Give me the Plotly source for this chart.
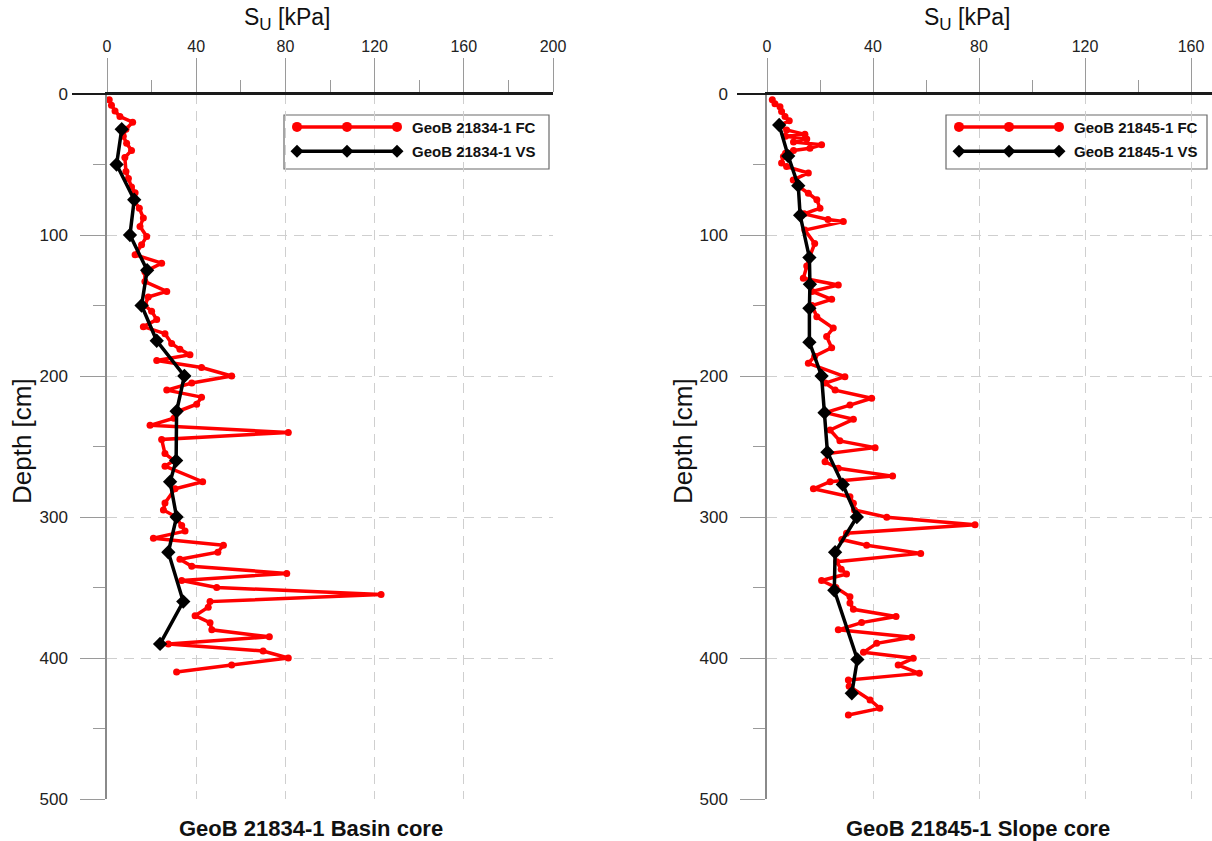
import plotly.graph_objects as go

W, H = 1212, 841

# ---- Basin core GeoB 21834-1 ----
basin_fc_depth = [4, 8, 12, 16, 20, 25, 30, 35, 40, 45, 55, 60, 66, 70, 75, 81, 88, 94, 101, 107,
                  114, 120, 126, 133, 140, 144, 150, 154, 160, 165, 170, 177, 181, 185, 189, 194,
                  200, 205, 210, 215, 220, 225, 230, 235, 240, 245, 255, 260, 264, 275, 280, 290,
                  295, 300, 306, 310, 315, 320, 325, 330, 335, 340, 345, 350, 355, 360, 364, 370,
                  375, 380, 385, 390, 395, 400, 405, 410]
basin_fc_su = [1.0, 2.0, 3.6, 5.8, 11.5, 8.5, 7.3, 8.8, 11.0, 8.0, 8.5, 9.6, 11.0, 12.6, 11.8, 14.5,
               16.3, 14.8, 17.8, 15.5, 12.6, 24.5, 17.0, 17.0, 26.8, 18.5, 17.0, 20.0, 22.3, 16.3,
               26.0, 29.0, 32.7, 37.2, 22.3, 42.4, 55.9, 38.0, 26.8, 42.4, 40.2, 32.0, 30.0, 19.3,
               81.3, 24.5, 26.0, 30.0, 26.0, 42.9, 30.5, 26.0, 25.3, 31.0, 33.5, 35.0, 20.8, 52.2,
               49.7, 32.7, 38.0, 80.6, 33.5, 49.2, 122.9, 46.2, 45.4, 39.5, 46.2, 47.0, 72.8, 27.5,
               70.0, 81.3, 55.9, 31.2]
basin_vs_depth = [25, 50, 75, 100, 125, 150, 175, 200, 225, 260, 275, 300, 325, 360, 390]
basin_vs_su = [6.6, 4.3, 12.2, 10.3, 18.0, 15.5, 22.3, 34.7, 31.2, 31.0, 28.3, 31.2, 27.5, 34.2, 23.8]

# ---- Slope core GeoB 21845-1 ----
slope_fc_depth = [4, 7, 9, 12.5, 16, 19, 22, 25.5, 28.6, 30, 32, 34, 36, 38.5, 40, 42, 44.4, 49,
                  51.5, 56, 61, 65, 70.4, 75, 81, 85, 89, 90.5, 96.5, 106, 116, 122, 130.7, 135.5,
                  140, 145.6, 150, 158, 166, 172, 180, 186, 191, 200.5, 205, 210, 215.8, 220.6,
                  226, 230.7, 238.3, 246, 250.8, 255, 260.8, 265.5, 271, 275, 280, 285.6, 290.3,
                  295, 300.2, 305.5, 311.5, 316, 320, 325.8, 331.7, 337, 340.4, 345, 350, 356.5,
                  361, 365.5, 370.6, 374.9, 380, 385.3, 389.6, 396, 400.2, 405, 410.9, 415.6, 420,
                  429.8, 435.7, 440.4]
slope_fc_su = [2.0, 3.0, 4.9, 5.5, 6.8, 8.4, 5.0, 7.4, 14.3, 7.0, 15.0, 10.0, 20.6, 16.2, 10.0,
               7.0, 6.2, 5.5, 7.4, 15.6, 9.9, 11.5, 15.6, 18.8, 20.0, 14.0, 23.0, 28.8, 14.3, 18.0,
               16.0, 15.0, 13.7, 26.9, 17.0, 24.4, 17.0, 18.8, 25.0, 22.5, 24.4, 18.0, 15.6, 29.4,
               22.0, 25.7, 39.5, 31.3, 22.0, 32.6, 23.8, 27.5, 40.8, 23.0, 21.9, 26.9, 47.4, 23.8,
               17.5, 31.3, 32.6, 33.0, 45.2, 78.5, 30.0, 28.2, 37.6, 58.0, 26.3, 28.0, 30.0, 20.6,
               26.0, 31.3, 31.3, 32.6, 48.7, 35.7, 26.9, 54.6, 41.4, 36.4, 55.2, 49.5, 57.5, 30.7,
               31.0, 38.9, 42.6, 30.7]
slope_vs_depth = [22, 44, 65, 86, 116, 135, 152, 176, 200, 226, 254, 277, 300, 325, 352, 401, 425]
slope_vs_su = [4.6, 8.0, 11.8, 12.5, 16.0, 16.2, 16.0, 16.0, 20.6, 21.7, 22.8, 28.6, 33.9, 25.7,
               25.4, 34.1, 32.0]

x_ticks = [0, 40, 80, 120, 160, 200]
y_ticks = [0, 100, 200, 300, 400, 500]
grid_y = [100, 200, 300, 400]

legend_left = ["GeoB 21834-1 FC", "GeoB 21834-1 VS"]
legend_right = ["GeoB 21845-1 FC", "GeoB 21845-1 VS"]
titles = ["GeoB 21834-1 Basin core", "GeoB 21845-1 Slope core"]

RED = "#ff0000"
BLACK = "#000000"
FONT = "Arial, Liberation Sans, sans-serif"


def px(x):
    return x / W


def py(y):
    return 1 - y / H


fig = go.Figure()


def fc_trace(x, y, xa, ya):
    return go.Scatter(x=x, y=y, xaxis=xa, yaxis=ya, mode="lines+markers",
                      line=dict(color=RED, width=3.5),
                      marker=dict(symbol="circle", size=7, color=RED),
                      showlegend=False, cliponaxis=False)


def vs_trace(x, y, xa, ya):
    return go.Scatter(x=x, y=y, xaxis=xa, yaxis=ya, mode="lines+markers",
                      line=dict(color=BLACK, width=3.5),
                      marker=dict(symbol="diamond", size=11, color=BLACK),
                      showlegend=False, cliponaxis=False)


fig.add_trace(fc_trace(basin_fc_su, basin_fc_depth, "x", "y"))
fig.add_trace(vs_trace(basin_vs_su, basin_vs_depth, "x", "y"))
fig.add_trace(fc_trace(slope_fc_su, slope_fc_depth, "x2", "y2"))
fig.add_trace(vs_trace(slope_vs_su, slope_vs_depth, "x2", "y2"))

# legend sample lines (three markers each), drawn in small helper axes
for xa, ya in (("x5", "y5"), ("x6", "y6")):
    fig.add_trace(go.Scatter(x=[0, 0.5, 1], y=[0.78] * 3, xaxis=xa, yaxis=ya,
                             mode="lines+markers", line=dict(color=RED, width=3.5),
                             marker=dict(symbol="circle", size=10, color=RED),
                             showlegend=False, cliponaxis=False, hoverinfo="skip"))
    fig.add_trace(go.Scatter(x=[0, 0.5, 1], y=[0.33] * 3, xaxis=xa, yaxis=ya,
                             mode="lines+markers", line=dict(color=BLACK, width=3.5),
                             marker=dict(symbol="diamond", size=10, color=BLACK),
                             showlegend=False, cliponaxis=False, hoverinfo="skip"))

tick_font = dict(family=FONT, size=16, color="#222")
ytick_font = dict(family=FONT, size=17, color="#222")


def x_axis(domain, rng, anchor):
    return dict(domain=domain, range=rng, side="top", anchor=anchor, automargin=False,
                tickvals=x_ticks, ticks="outside", ticklen=34, tickwidth=1.2,
                tickcolor="#9a9a9a", tickfont=tick_font,
                minor=dict(dtick=20, tick0=0, ticks="outside", ticklen=12,
                           tickcolor="#9a9a9a", tickwidth=1.2, showgrid=False),
                showgrid=True, gridcolor="#cfcfcf", griddash="10px,7px", gridwidth=1.2,
                showline=True, linecolor="#1a1a1a", linewidth=2, zeroline=False,
                fixedrange=True)


def y_axis(domain, anchor):
    return dict(domain=domain, range=[500, 0], anchor=anchor, automargin=False,
                tickvals=y_ticks, ticks="outside", ticklen=25, tickwidth=1.2,
                tickcolor="#9a9a9a", tickfont=ytick_font, ticklabelstandoff=9,
                minor=dict(dtick=50, tick0=0, ticks="outside", ticklen=12,
                           tickcolor="#9a9a9a", tickwidth=1.2, showgrid=False),
                showgrid=False, showline=True, linecolor="#8a8a8a", linewidth=1.5,
                zeroline=False, fixedrange=True)


def grid_axis(domain, overlay, anchor):
    # horizontal dashed grid only at interior depths
    return dict(domain=domain, range=[500, 0], overlaying=overlay, anchor=anchor,
                automargin=False, tickvals=grid_y, showticklabels=False, ticks="",
                showgrid=True, gridcolor="#cfcfcf", griddash="10px,7px", gridwidth=1.2,
                showline=False, zeroline=False, fixedrange=True)


ydom = [py(799), py(94)]
left_x = [px(107), px(553)]
right_x = [px(767), 1.0]
right_max = (1212 - 767) / 2.65

hidden = dict(visible=False, range=[0, 1], fixedrange=True, automargin=False)

fig.update_layout(
    width=W, height=H, autosize=False,
    margin=dict(l=0, r=0, t=0, b=0, pad=0, autoexpand=False),
    paper_bgcolor="white", plot_bgcolor="rgba(0,0,0,0)",
    showlegend=False,
    font=dict(family=FONT, color="#222"),
    xaxis=x_axis(left_x, [0, 200], "y"),
    yaxis=y_axis(ydom, "x"),
    xaxis2=x_axis(right_x, [0, right_max], "y2"),
    yaxis2=y_axis(ydom, "x2"),
    yaxis3=grid_axis(ydom, "y", "x"),
    yaxis4=grid_axis(ydom, "y2", "x2"),
    xaxis5=dict(hidden, domain=[px(297), px(397)], anchor="y5"),
    yaxis5=dict(hidden, domain=[py(169), py(115)], anchor="x5"),
    xaxis6=dict(hidden, domain=[px(959), px(1059)], anchor="y6"),
    yaxis6=dict(hidden, domain=[py(169), py(115)], anchor="x6"),
)

# y3/y4 overlays need an x axis to live on
fig.add_trace(go.Scatter(x=[None], y=[None], xaxis="x", yaxis="y3", showlegend=False))
fig.add_trace(go.Scatter(x=[None], y=[None], xaxis="x2", yaxis="y4", showlegend=False))

shapes = []
# top axis line running out past the depth axis
for x0, x1 in ((72, 553), (737, 1212)):
    shapes.append(dict(type="line", xref="paper", yref="paper",
                       x0=px(x0), x1=px(x1), y0=py(94), y1=py(94),
                       line=dict(color="#1a1a1a", width=2), layer="above"))
# legend frames
for x0, x1 in ((284, 549), (946, 1207)):
    shapes.append(dict(type="rect", xref="paper", yref="paper",
                       x0=px(x0), x1=px(x1), y0=py(169), y1=py(115),
                       line=dict(color="#6a6a6a", width=1.2), fillcolor="white",
                       layer="below"))
fig.update_layout(shapes=shapes)

su_title = "S<sub><span style='font-size:17px'>U</span></sub> [kPa]"
ann = []
for cx in (287, 967):
    ann.append(dict(x=px(cx), y=py(19), xref="paper", yref="paper", text=su_title,
                    showarrow=False, xanchor="center", yanchor="middle",
                    font=dict(family=FONT, size=23, color="#111")))
for cx in (22, 683):
    ann.append(dict(x=px(cx), y=py(441), xref="paper", yref="paper", text="Depth [cm]",
                    textangle=-90, showarrow=False, xanchor="center", yanchor="middle",
                    font=dict(family=FONT, size=26, color="#111")))
for cx, label in ((311, titles[0]), (978, titles[1])):
    ann.append(dict(x=px(cx), y=py(828), xref="paper", yref="paper",
                    text="<b>" + label + "</b>", showarrow=False,
                    xanchor="center", yanchor="middle",
                    font=dict(family=FONT, size=22, color="#111")))
for tx, labels in ((410, legend_left), (1072, legend_right)):
    for ty, label in zip((127, 151), labels):
        ann.append(dict(x=px(tx), y=py(ty), xref="paper", yref="paper",
                        text="<b>" + label + "</b>", showarrow=False,
                        xanchor="left", yanchor="middle",
                        font=dict(family=FONT, size=15, color="#111")))
fig.update_layout(annotations=ann)

fig.write_html("out.html")
